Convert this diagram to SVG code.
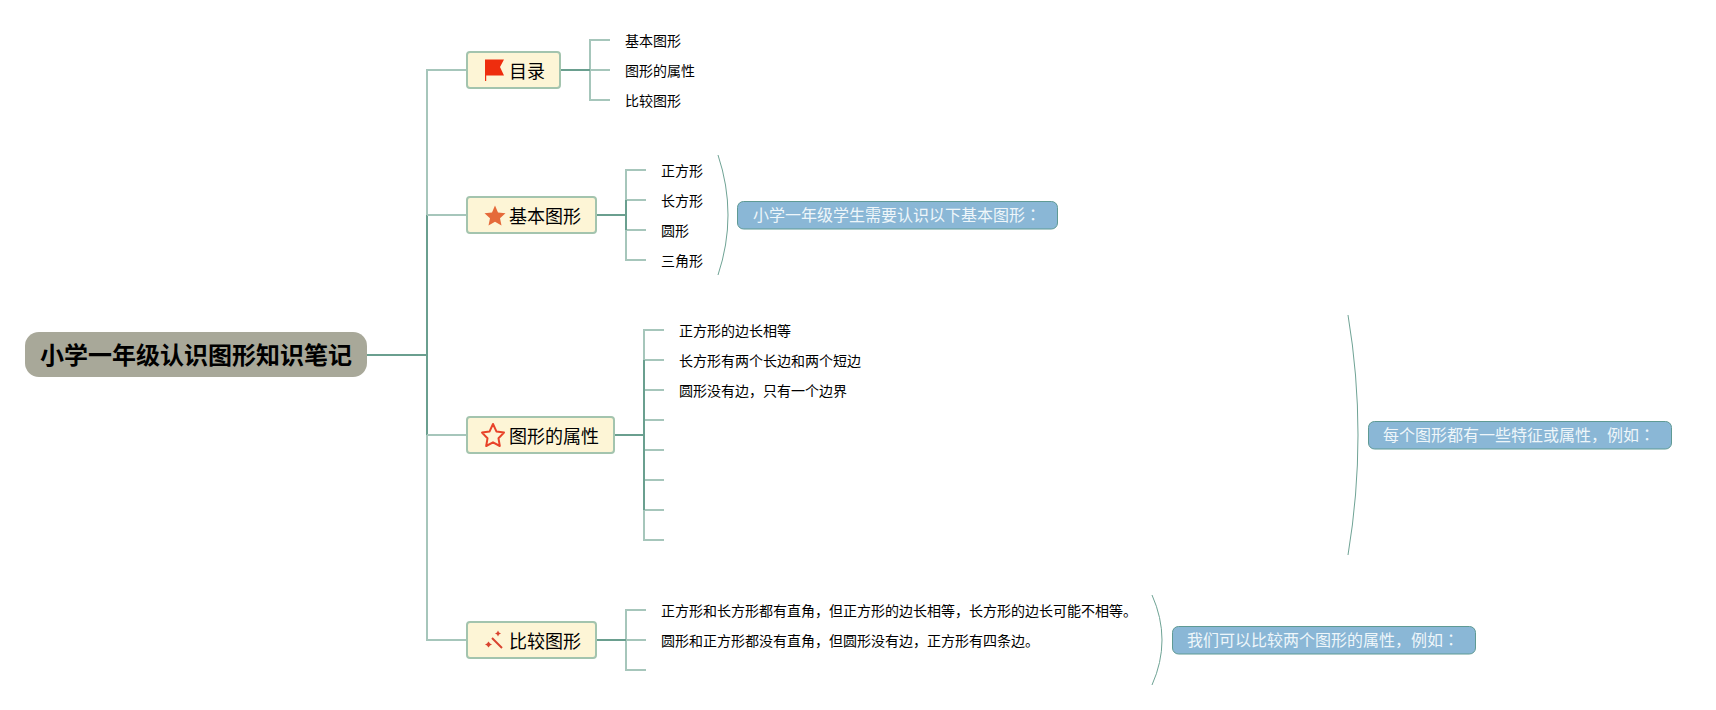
<svg xmlns="http://www.w3.org/2000/svg" width="1716" height="710" viewBox="0 0 1716 710">
<style>
text{font-family:"Noto Sans CJK SC","Noto Sans",sans-serif;fill:#000}
.root{font-size:24px;font-weight:700}
.topic{font-size:18px}
.leaf{font-size:14px}
.note{font-size:16px;fill:#eef6fa}
.colon{font-family:"Noto Sans CJK TC","Noto Sans",sans-serif}
.tbox{fill:#fdf5d6;stroke:#a3c4ae;stroke-width:2}
.nbox{fill:#8ab7d6;stroke:#5f9a94;stroke-width:1}
.c1{fill:none;stroke:#a6c6bb;stroke-width:2}
.c2{fill:none;stroke:#6a9f8f;stroke-width:2}
.b{fill:none;stroke:#6fa395;stroke-width:1}
</style>
<rect width="1716" height="710" fill="#fff"/>
<g id="connectors">
<path class="c2" d="M367 355H427M427 215V640"/>
<path class="c1" d="M467 70H427V215M467 215H427M467 435H427M467 640H427V435"/>
<path class="c1" d="M610 40H590V100H610M590 70H610"/>
<path class="c2" d="M560 70H590"/>
<path class="c1" d="M646 170H626V260H646M626 200H646M626 230H646"/>
<path class="c2" d="M596 215H626M626 200V230"/>
<path class="c1" d="M664 330H644V540H664M644 360H664M644 390H664M644 420H664M644 450H664M644 480H664M644 510H664"/>
<path class="c2" d="M614 435H644M644 360V510"/>
<path class="c1" d="M646 610H626V670H646M626 640H646"/>
<path class="c2" d="M596 640H626"/>
<path class="b" d="M718 155Q738 215 718 275"/>
<path class="b" d="M1348 315Q1368 435 1348 555"/>
<path class="b" d="M1152 595Q1172 640 1152 685"/>
</g>
<g id="root"><rect x="25" y="332" width="342" height="45" rx="14" fill="#a8a899"/><text class="root" x="40" y="364">小学一年级认识图形知识笔记</text></g>
<g id="t1"><rect class="tbox" x="467" y="52" width="93" height="36" rx="3"/>
<path d="M485 59.500H504L500 67L504 75.500H486.200V81H485Z" fill="#ee2d0e"/>
<text class="topic" x="509" y="78">目录</text></g>
<g id="t1a"><text class="leaf" x="625" y="46">基本图形</text></g>
<g id="t1b"><text class="leaf" x="625" y="76">图形的属性</text></g>
<g id="t1c"><text class="leaf" x="625" y="106">比较图形</text></g>
<g id="t2"><rect class="tbox" x="467" y="197" width="129" height="36" rx="3"/>
<path d="M495 205.500L498 212.500L505.500 213.300L500 218.300L501.500 225.500L495 221.800L488.500 225.500L490 218.300L484.500 213.300L492 212.500Z" fill="#e56a3a"/>
<text class="topic" x="509" y="223">基本图形</text></g>
<g id="t2a"><text class="leaf" x="661" y="176">正方形</text></g>
<g id="t2b"><text class="leaf" x="661" y="206">长方形</text></g>
<g id="t2c"><text class="leaf" x="661" y="236">圆形</text></g>
<g id="t2d"><text class="leaf" x="661" y="266">三角形</text></g>
<g id="n2"><rect class="nbox" x="737.500" y="201.500" width="320" height="27.500" rx="6"/><text class="note" x="753" y="221">小学一年级学生需要认识以下基本图形<tspan class="colon">：</tspan></text></g>
<g id="t3"><rect class="tbox" x="467" y="417" width="147" height="36" rx="3"/>
<path d="M493 424L496.400 431.400L504 432.600L498.500 438.300L499.800 446L493 442.300L486.200 446L487.500 438.300L482 432.600L489.600 431.400Z" fill="#fdf5d6" stroke="#e8432a" stroke-width="2" stroke-linejoin="round"/>
<text class="topic" x="509" y="443">图形的属性</text></g>
<g id="t3a"><text class="leaf" x="679" y="336">正方形的边长相等</text></g>
<g id="t3b"><text class="leaf" x="679" y="366">长方形有两个长边和两个短边</text></g>
<g id="t3c"><text class="leaf" x="679" y="396">圆形没有边，只有一个边界</text></g>
<g id="n3"><rect class="nbox" x="1368.500" y="421.500" width="303" height="27.500" rx="6"/><text class="note" x="1383" y="441">每个图形都有一些特征或属性，例如<tspan class="colon">：</tspan></text></g>
<g id="t4"><rect class="tbox" x="467" y="622" width="129" height="36" rx="3"/>
<path d="M492 638L502 648" stroke="#d9432f" stroke-width="2" fill="none"/>
<path d="M498 630.500L499 632.500L501 633.500L499 634.500L498 636.500L497 634.500L495 633.500L497 632.500Z M488.500 641.500L490 643.500L492 644.500L490 645.500L488.500 647.500L487 645.500L485 644.500L487 643.500Z" fill="#d9432f"/>
<text class="topic" x="509" y="648">比较图形</text></g>
<g id="t4a"><text class="leaf" x="661" y="616">正方形和长方形都有直角，但正方形的边长相等，长方形的边长可能不相等。</text></g>
<g id="t4b"><text class="leaf" x="661" y="646">圆形和正方形都没有直角，但圆形没有边，正方形有四条边。</text></g>
<g id="n4"><rect class="nbox" x="1172.500" y="626.500" width="303" height="27.500" rx="6"/><text class="note" x="1187" y="646">我们可以比较两个图形的属性，例如<tspan class="colon">：</tspan></text></g>
</svg>
